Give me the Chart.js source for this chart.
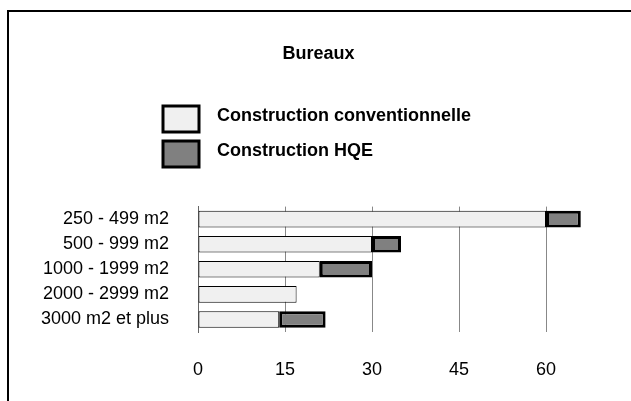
<!DOCTYPE html>
<html>

<head>
  <title>Bureaux</title>
  <script src="https://cdn.jsdelivr.net/npm/chart.js@4.4.1/dist/chart.umd.min.js"></script>
  <style>
    html, body { margin: 0; padding: 0; background: #fff; overflow: hidden; }
    #frame {
      position: absolute; left: 7px; top: 10px; width: 700px; height: 420px;
      border-top: 2px solid #000; border-left: 2px solid #000;
    }
    #wrap { position: absolute; left: 0; top: 0; width: 660px; height: 401px; }
  </style>
</head>

<body>
  <div id="frame"></div>
  <div id="wrap"><canvas id="barChart"></canvas></div>
  <script>
    const categories = ['250 - 499 m2', '500 - 999 m2', '1000 - 1999 m2', '2000 - 2999 m2', '3000 m2 et plus'];
    const conventionnelle = [60, 30, 21, 17, 14];
    const hqe = [6, 5, 9, 0, 8];
    const xTicks = [0, 15, 30, 45, 60];

    const FONT = '"Liberation Sans", Arial, Helvetica, sans-serif';

    // legend drawn by hand: big boxes stacked one under the other
    const boxLegend = {
      id: 'boxLegend',
      afterDraw(chart) {
        const ctx = chart.ctx;
        ctx.save();
        chart.data.datasets.forEach((ds, i) => {
          const y = 106 + i * 35;
          ctx.fillStyle = ds.backgroundColor;
          ctx.fillRect(163, y, 36, 26);
          ctx.lineWidth = 3;
          ctx.strokeStyle = '#000';
          ctx.strokeRect(163, y, 36, 26);
          ctx.fillStyle = '#000';
          ctx.font = 'bold 18px ' + FONT;
          ctx.textBaseline = 'middle';
          ctx.fillText(ds.label, 217, y + 10);
        });
        ctx.restore();
      }
    };

    const ctx = document.getElementById('barChart').getContext('2d');
    const barChart = new Chart(ctx, {
      type: 'bar',
      data: {
        labels: categories,
        datasets: [{
          label: 'Construction conventionnelle',
          data: conventionnelle,
          backgroundColor: '#f0f0f0',
          borderColor: '#000',
          borderWidth: 1,
          borderSkipped: false
        }, {
          label: 'Construction HQE',
          data: hqe,
          backgroundColor: '#808080',
          borderColor: '#000',
          borderWidth: 3,
          borderSkipped: false
        }]
      },
      options: {
        indexAxis: 'y',
        responsive: true,
        maintainAspectRatio: false,
        animation: false,
        barPercentage: 0.66,
        categoryPercentage: 1,
        layout: { padding: { left: 0, right: 23, top: 0, bottom: 19 } },
        plugins: {
          legend: { display: false },
          tooltip: { enabled: false },
          title: {
            display: true,
            text: 'Bureaux',
            color: '#000',
            font: { family: FONT, size: 18, weight: 'bold' },
            padding: { top: 43, bottom: 142 }
          }
        },
        scales: {
          x: {
            stacked: true,
            min: 0,
            max: 75,
            afterBuildTicks(scale) {
              scale.ticks = [0, 15, 30, 45, 60, 75].map(v => ({ value: v }));
            },
            afterFit(scale) { scale.height = 50; },
            ticks: {
              color: '#000',
              padding: 27,
              maxRotation: 0,
              autoSkip: false,
              font: { family: FONT, size: 18 },
              callback: v => xTicks.includes(v) ? String(v) : ''
            },
            grid: { color: '#888', drawTicks: false },
            border: { display: false }
          },
          y: {
            stacked: true,
            afterFit(scale) { scale.width = 198; },
            ticks: {
              color: '#000',
              padding: 29,
              autoSkip: false,
              font: { family: FONT, size: 18 }
            },
            grid: { display: false, drawTicks: false },
            border: { display: true, color: '#666', width: 1 }
          }
        }
      },
      plugins: [boxLegend]
    });
  </script>
</body>

</html>
